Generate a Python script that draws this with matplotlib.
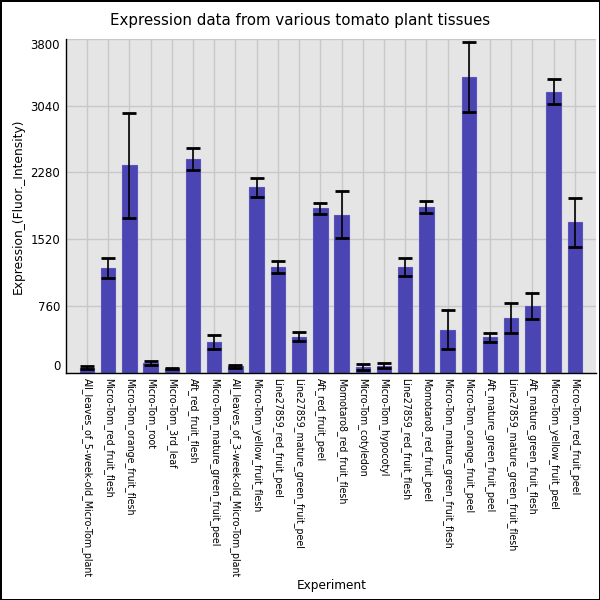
import matplotlib
matplotlib.use('Agg')
import matplotlib.pyplot as plt
import numpy as np

experiments = [
    'All_leaves_of_5-week-old_Micro-Tom_plant', 'Micro-Tom_red_fruit_flesh',
    'Micro-Tom_orange_fruit_flesh', 'Micro-Tom_root', 'Micro-Tom_3rd_leaf',
    'Aft_red_fruit_flesh', 'Micro-Tom_mature_green_fruit_peel',
    'All_leaves_of_3-week-old_Micro-Tom_plant', 'Micro-Tom_yellow_fruit_flesh',
    'Line27859_red_fruit_peel', 'Line27859_mature_green_fruit_peel',
    'Aft_red_fruit_peel', 'Momotaro8_red_fruit_flesh', 'Micro-Tom_cotyledon',
    'Micro-Tom_hypocotyl', 'Line27859_red_fruit_flesh', 'Momotaro8_red_fruit_peel',
    'Micro-Tom_mature_green_fruit_flesh', 'Micro-Tom_orange_fruit_peel',
    'Aft_mature_green_fruit_peel', 'Line27859_mature_green_fruit_flesh',
    'Aft_mature_green_fruit_flesh', 'Micro-Tom_yellow_fruit_peel',
    'Micro-Tom_red_fruit_peel',
]
expression = [56, 1195, 2360, 110, 45, 2435, 345, 70, 2110, 1200, 410,
              1870, 1800, 65, 80, 1200, 1890, 490, 3370, 400, 622, 755,
              3200, 1710]
errors = [14, 112, 595, 25, 8, 125, 78, 12, 105, 70, 48,
          60, 265, 30, 28, 100, 68, 220, 400, 52, 170, 150,
          143, 277]
yticks = [0, 760, 1520, 2280, 3040, 3800]

fig = plt.figure(figsize=(6, 6), dpi=100)
fig.patch.set_edgecolor('black')
fig.patch.set_linewidth(1)
ax = fig.add_axes([0.1095, 0.379, 0.884, 0.556])
ax.set_facecolor('#e5e5e5')

x = np.arange(len(experiments))
ax.bar(x, expression, width=0.68, color='#4a45b2', edgecolor='#5853bd',
       linewidth=0.8, zorder=2)
ax.errorbar(x, expression, yerr=errors, fmt='none', ecolor='black',
            elinewidth=1.2, capsize=5, capthick=2, zorder=3)

ax.set_xlim(-1, len(experiments))
ax.set_ylim(0, 3800)
ax.set_xticks(x)
ax.set_xticklabels(experiments, rotation=270, fontsize=6.85, va='top', ha='center')
ax.set_yticks(yticks)
ax.set_yticklabels([str(v) for v in yticks], fontsize=8.5)
labs = ax.get_yticklabels()
labs[0].set_va('bottom')
labs[-1].set_va('top')
ax.tick_params(length=0, pad=4)
ax.grid(True, color='#c8c8c8', linewidth=1, zorder=0)
ax.set_axisbelow(True)
for s in ['top', 'right']:
    ax.spines[s].set_visible(False)
ax.spines['left'].set_linewidth(1)
ax.spines['bottom'].set_linewidth(1)

fig.text(0.5, 0.965, 'Expression data from various tomato plant tissues',
         ha='center', va='center', fontsize=10.8)
ax.set_ylabel('Expression_(Fluor._Intensity)', fontsize=8.85, labelpad=4)
fig.text(0.553, 0.025, 'Experiment', ha='center', va='center', fontsize=8.7)

fig.savefig('out.png', dpi=100, edgecolor=fig.get_edgecolor())
